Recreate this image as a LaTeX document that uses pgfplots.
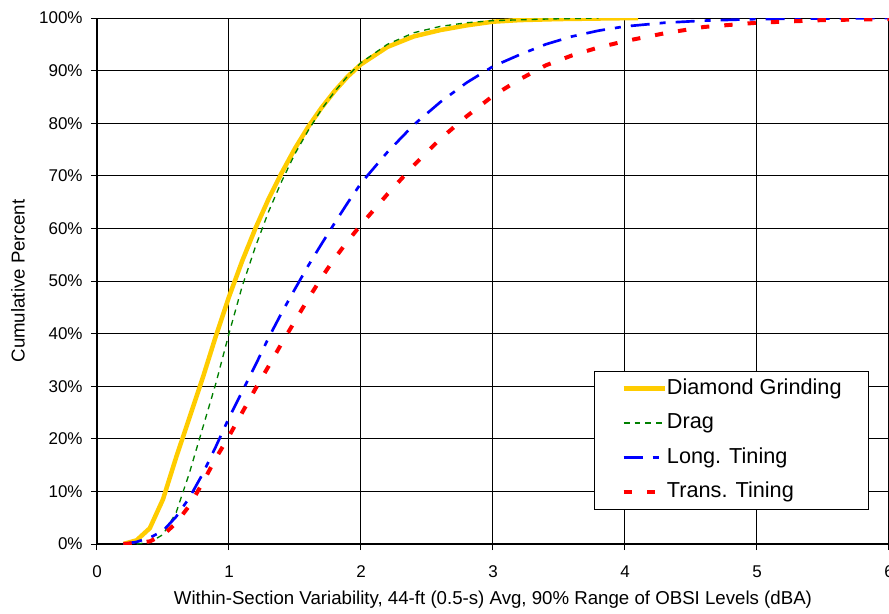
\documentclass[border=0pt]{standalone}
\usepackage{pgfplots}
\pgfplotsset{compat=1.18}
\usepackage{fontspec}
\setmainfont{Liberation Sans}
\definecolor{dgold}{RGB}{255,204,0}
\definecolor{dgreen}{RGB}{0,128,0}
\definecolor{dblue}{RGB}{0,0,255}
\definecolor{dred}{RGB}{255,0,0}
\begin{document}
\begin{tikzpicture}
\begin{axis}[
  scale only axis, width=475.2pt, height=315.6pt,
  xmin=0, xmax=6, ymin=0, ymax=100,
  axis lines*=left,
  xtick={0,1,2,3,4,5,6}, xticklabels={0,1,2,3,4,5,6},
  ytick={0,10,20,30,40,50,60,70,80,90,100},
  yticklabels={0\%,10\%,20\%,30\%,40\%,50\%,60\%,70\%,80\%,90\%,100\%},
  grid=major, major grid style={black, line width=0.6pt},
  axis line style={black, line width=0.9pt, -},
  tick align=outside, major tick length=3.6pt, tick style={black, line width=0.6pt},
  ticklabel style={font=\fontsize{10.2}{12}\selectfont},
  xticklabel style={yshift=-6pt},
  yticklabel style={xshift=-1.5pt},
  label style={font=\fontsize{11.2}{13}\selectfont},
  xlabel={Within-Section Variability, 44-ft (0.5-s) Avg, 90\% Range of OBSI Levels (dBA)},
  ylabel={Cumulative Percent},
  xlabel style={at={(axis description cs:0.5,-0.1065)}, anchor=center},
  ylabel style={at={(axis description cs:-0.0997,0.5)}, anchor=center, rotate=0},
  legend style={at={(axis description cs:0.6275,0.3289)}, anchor=north west,
    draw=black, line width=0.6pt, fill=white, font=\fontsize{13}{15}\selectfont,
    inner xsep=16.2pt, inner ysep=4.2pt, row sep=8.7pt, column sep=0pt,
    nodes={inner xsep=0pt, inner ysep=0pt, text height=9.3pt, text depth=2.7pt}},
  legend cell align=left,
  legend image code/.code={\draw[#1] (0pt,0pt) -- (24.6pt,0pt);},
]
\addplot[dgold, line width=2.7pt] coordinates {
(0.2,0) (0.3,0.7) (0.4,3) (0.5,8.5) (0.6,16.5) (0.7,24) (0.8,31.5) (0.9,39.5)
(1.0,47) (1.1,53.8) (1.2,60) (1.3,65.6) (1.4,70.6) (1.5,75.2) (1.6,79.3) (1.7,82.9)
(1.8,86.1) (1.9,88.9) (2.0,91.2) (2.2,94.5) (2.4,96.5) (2.6,97.7) (2.8,98.6)
(3.0,99.3) (3.2,99.6) (3.5,99.8) (3.8,99.9) (4.1,100)};
\addlegendentry{Diamond Grinding}
\addplot[dgreen, line width=0.8pt, dash pattern=on 3.5pt off 3pt] coordinates {
(0.3,0) (0.4,0.3) (0.5,1.8) (0.6,6) (0.7,13.5) (0.8,22) (0.9,30.5) (1.0,40)
(1.1,49) (1.2,56.5) (1.3,63.2) (1.4,69) (1.5,74.2) (1.6,78.6) (1.7,82.6)
(1.8,86) (1.9,89) (2.0,91.5) (2.2,95) (2.4,97.2) (2.6,98.4) (2.8,99.1)
(3.0,99.5) (3.4,99.8) (3.8,100)};
\addlegendentry{Drag}
\addplot[dblue, line width=1.6pt, dash pattern=on 11.4pt off 6pt on 3.6pt off 6pt] coordinates {
(0.2,0) (0.3,0.4) (0.4,1.2) (0.5,2.5) (0.6,5.2) (0.7,8.8) (0.8,13.3) (0.9,18.5)
(1.0,24) (1.1,29) (1.2,34) (1.3,39.2) (1.4,44) (1.5,48.5) (1.6,52.9) (1.7,57)
(1.8,61) (1.9,64.9) (2.0,68.6) (2.2,74.5) (2.4,79.7) (2.6,84) (2.8,87.7)
(3.0,90.8) (3.2,93) (3.4,95) (3.6,96.5) (3.8,97.6) (4.0,98.4) (4.3,99.1)
(4.6,99.5) (5.0,99.8) (5.5,99.9) (6.0,100)};
\addlegendentry{Long. Tining}
\addplot[dred, line width=2.4pt, dash pattern=on 5pt off 9pt] coordinates {
(0.2,0) (0.3,0.2) (0.4,0.5) (0.5,1.7) (0.6,4) (0.7,7.3) (0.8,11.6) (0.9,16.3)
(1.0,20.5) (1.1,25) (1.2,29.5) (1.3,33.8) (1.4,38.2) (1.5,42.4) (1.6,46.6) (1.7,50.6)
(1.8,54.3) (1.9,57.6) (2.0,60.7) (2.2,66.5) (2.4,72) (2.6,77) (2.8,81.3)
(3.0,85.2) (3.2,88.3) (3.4,91) (3.6,92.9) (3.8,94.4) (4.0,95.6) (4.3,97.1)
(4.6,98.3) (5.0,99.1) (5.5,99.6) (6.0,99.8)};
\addlegendentry{Trans. Tining}
\end{axis}
\pgfresetboundingbox
\path[use as bounding box] (-58.2pt,-41.4pt) rectangle (475.2pt,326.4pt);
\end{tikzpicture}
\end{document}
